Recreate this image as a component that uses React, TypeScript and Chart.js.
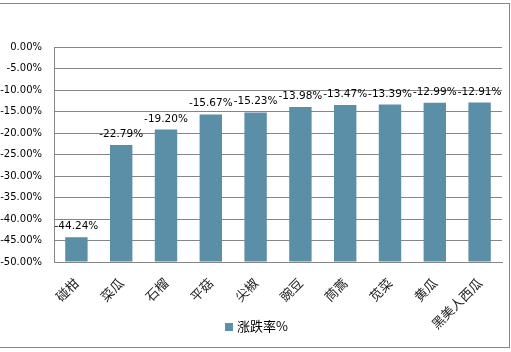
import React, { useEffect, useRef } from "react";
import { Chart, registerables } from "chart.js";

Chart.register(...registerables);

const categories = ["碰柑", "菜瓜", "石榴", "平菇", "尖椒", "豌豆", "茼蒿", "苋菜", "黄瓜", "黑美人西瓜"];
const values = [-44.24, -22.79, -19.2, -15.67, -15.23, -13.98, -13.47, -13.39, -12.99, -12.91];
const seriesName = "涨跌率%";
const yMin = -50;
const yMax = 0;
const yStep = 5;

const BAR = "#5B8FA7";
const GRID = "#868686";

const labelPlugin = {
  id: "valueLabels",
  afterDatasetsDraw(chart: any) {
    const ctx = chart.ctx;
    const meta = chart.getDatasetMeta(0);
    ctx.save();
    ctx.font = "10.5px 'DejaVu Sans'";
    ctx.fillStyle = "#000";
    ctx.textAlign = "center";
    ctx.textBaseline = "alphabetic";
    meta.data.forEach((el: any, i: number) => {
      const v = values[i];
      ctx.fillText(v.toFixed(2) + "%", el.x, el.y - 8);
    });
    ctx.restore();
  },
};

const legendPlugin = {
  id: "customLegend",
  afterDraw(chart: any) {
    const ctx = chart.ctx;
    ctx.save();
    ctx.fillStyle = BAR;
    ctx.fillRect(225, 323, 8, 8);
    ctx.fillStyle = "#000";
    ctx.font = "13px 'Noto Sans CJK SC'";
    ctx.textAlign = "left";
    ctx.textBaseline = "middle";
    ctx.fillText(seriesName, 237, 326);
    ctx.restore();
  },
};

const borderPlugin = {
  id: "outerBorder",
  afterDraw(chart: any) {
    const ctx = chart.ctx;
    ctx.save();
    ctx.strokeStyle = GRID;
    ctx.lineWidth = 1;
    ctx.strokeRect(-2, 3.5, 511.5, 344);
    ctx.restore();
  },
};

export default function App() {
  const ref = useRef<HTMLCanvasElement>(null);
  useEffect(() => {
    if (!ref.current) return;
    const chart = new Chart(ref.current, {
      type: "bar",
      data: {
        labels: categories,
        datasets: [
          {
            label: seriesName,
            data: values,
            base: yMin,
            backgroundColor: BAR,
            borderWidth: 0,
            barPercentage: 0.5,
            categoryPercentage: 1,
          } as any,
        ],
      },
      options: {
        animation: false,
        responsive: false,
        layout: { padding: { left: 0, right: 9, top: 47, bottom: 0 } },
        plugins: {
          tooltip: { enabled: false },
          legend: { display: false },
        },
        scales: {
          x: {
            grid: { display: false },
            border: { display: true, color: GRID },
            ticks: {
              minRotation: 45,
              maxRotation: 45,
              color: "#222",
              padding: 5,
              font: { size: 13, family: "'Noto Sans CJK SC'" },
            },
            afterFit(scale: any) {
              scale.height = 90;
            },
          },
          y: {
            min: yMin,
            max: yMax,
            grid: { color: GRID, drawTicks: false },
            border: { display: true, color: GRID },
            ticks: {
              stepSize: yStep,
              padding: 12,
              color: "#000",
              font: { size: 10, family: "'DejaVu Sans'" },
              callback: (v: any) => Number(v).toFixed(2) + "%",
            },
            afterFit(scale: any) {
              scale.width = 54;
            },
          },
        },
      },
      plugins: [labelPlugin, legendPlugin, borderPlugin],
    });
    return () => chart.destroy();
  }, []);
  return (
    <div style={{ position: "absolute", left: 0, top: 0, width: 511, height: 352 }}>
      <canvas ref={ref} width={511} height={352} />
    </div>
  );
}
